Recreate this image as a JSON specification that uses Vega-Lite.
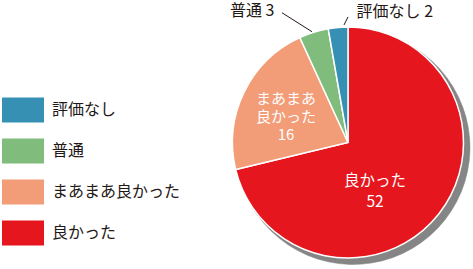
{
  "$schema": "https://vega.github.io/schema/vega-lite/v6.json",
  "width": 248,
  "height": 285,
  "autosize": {"type": "none"},
  "padding": {"left": 224, "top": 0, "right": 1, "bottom": 0},
  "background": "white",
  "config": {"view": {"stroke": null}, "font": "Noto Sans CJK JP"},
  "data": {
    "values": [
      {"category": "良かった", "value": 52},
      {"category": "まあまあ良かった", "value": 16},
      {"category": "普通", "value": 3},
      {"category": "評価なし", "value": 2}
    ]
  },
  "transform": [
    {"joinaggregate": [{"op": "sum", "field": "value", "as": "total"}]},
    {"window": [{"op": "sum", "field": "value", "as": "cum"}], "sort": [{"field": "value", "order": "descending"}], "frame": [null, 0]},
    {"calculate": "datum.cum - datum.value/2", "as": "mid"},
    {"calculate": "sin(2*PI*datum.mid/datum.total)", "as": "ux"},
    {"calculate": "cos(2*PI*datum.mid/datum.total)", "as": "uy"}
  ],
  "layer": [
    {
      "mark": {"type": "arc", "outerRadius": 117, "color": "#858585", "stroke": "#858585", "strokeWidth": 0.5, "xOffset": 5, "yOffset": 5},
      "encoding": {
        "theta": {"field": "value", "type": "quantitative", "stack": true},
        "order": {"field": "value", "sort": "descending"}
      }
    },
    {
      "mark": {"type": "arc", "outerRadius": 115.5, "stroke": "white", "strokeWidth": 1.5},
      "encoding": {
        "theta": {"field": "value", "type": "quantitative", "stack": true},
        "order": {"field": "value", "sort": "descending"},
        "color": {
          "field": "category",
          "type": "nominal",
          "scale": {
            "domain": ["評価なし", "普通", "まあまあ良かった", "良かった"],
            "range": ["#3690b3", "#80bc7c", "#f29c78", "#e5161d"]
          },
          "legend": {
            "orient": "none",
            "legendX": -222,
            "legendY": 89,
            "title": null,
            "symbolType": "M-1,-0.6H1V0.6H-1Z",
            "symbolSize": 1764,
            "symbolStrokeWidth": 0,
            "labelFontSize": 16,
            "labelFont": "Noto Sans CJK JP",
            "labelColor": "#231815",
            "labelOffset": 8,
            "rowPadding": 7
          }
        }
      }
    },
    {
      "transform": [
        {"filter": "datum.category === '良かった'"},
        {"calculate": "datum.category + '\\n' + datum.value", "as": "label"}
      ],
      "mark": {"type": "text", "radius": 70, "dx": -28, "dy": -5, "fill": "white", "fontSize": 15.5, "lineBreak": "\n", "lineHeight": 21, "align": "center", "baseline": "middle"},
      "encoding": {
        "theta": {"field": "mid", "type": "quantitative", "stack": null},
        "text": {"field": "label"}
      }
    },
    {
      "transform": [
        {"filter": "datum.category === 'まあまあ良かった'"},
        {"calculate": "replace(datum.category, 'まあまあ', 'まあまあ\\n') + '\\n' + datum.value", "as": "label"}
      ],
      "mark": {"type": "text", "radius": 70, "dx": 1, "dy": -12.5, "fill": "white", "fontSize": 15, "lineBreak": "\n", "lineHeight": 18, "align": "center", "baseline": "middle"},
      "encoding": {
        "theta": {"field": "mid", "type": "quantitative", "stack": null},
        "text": {"field": "label"}
      }
    },
    {
      "transform": [
        {"filter": "datum.category === '普通'"},
        {"calculate": "datum.category + ' ' + datum.value", "as": "label"}
      ],
      "mark": {"type": "text", "radius": 140, "dx": -32, "dy": 2, "fill": "#231815", "fontSize": 16, "align": "right", "baseline": "middle"},
      "encoding": {
        "theta": {"field": "mid", "type": "quantitative", "stack": null},
        "text": {"field": "label"}
      }
    },
    {
      "transform": [
        {"filter": "datum.category === '評価なし'"},
        {"calculate": "datum.category + ' ' + datum.value", "as": "label"}
      ],
      "mark": {"type": "text", "radius": 133, "dx": 20, "dy": 2, "fill": "#231815", "fontSize": 16, "align": "left", "baseline": "middle"},
      "encoding": {
        "theta": {"field": "mid", "type": "quantitative", "stack": null},
        "text": {"field": "label"}
      }
    },
    {
      "transform": [{"filter": "datum.category === '普通'"}],
      "mark": {"type": "rule", "color": "#231815", "strokeWidth": 1, "xOffset": -1.6, "yOffset": 0, "x2Offset": -31.6, "y2Offset": -19},
      "encoding": {
        "x": {"field": "ux", "type": "quantitative", "scale": {"domain": [-1.069, 1.069], "nice": false, "zero": false}, "axis": null},
        "y": {"field": "uy", "type": "quantitative", "scale": {"domain": [-1.2284, 1.2284], "nice": false, "zero": false}, "axis": null},
        "x2": {"field": "ux"},
        "y2": {"field": "uy"}
      }
    },
    {
      "transform": [{"filter": "datum.category === '評価なし'"}],
      "mark": {"type": "rule", "color": "#231815", "strokeWidth": 1, "xOffset": 6, "yOffset": -2, "x2Offset": 10, "y2Offset": -10},
      "encoding": {
        "x": {"field": "ux", "type": "quantitative", "scale": {"domain": [-1.069, 1.069], "nice": false, "zero": false}, "axis": null},
        "y": {"field": "uy", "type": "quantitative", "scale": {"domain": [-1.2284, 1.2284], "nice": false, "zero": false}, "axis": null},
        "x2": {"field": "ux"},
        "y2": {"field": "uy"}
      }
    }
  ]
}
